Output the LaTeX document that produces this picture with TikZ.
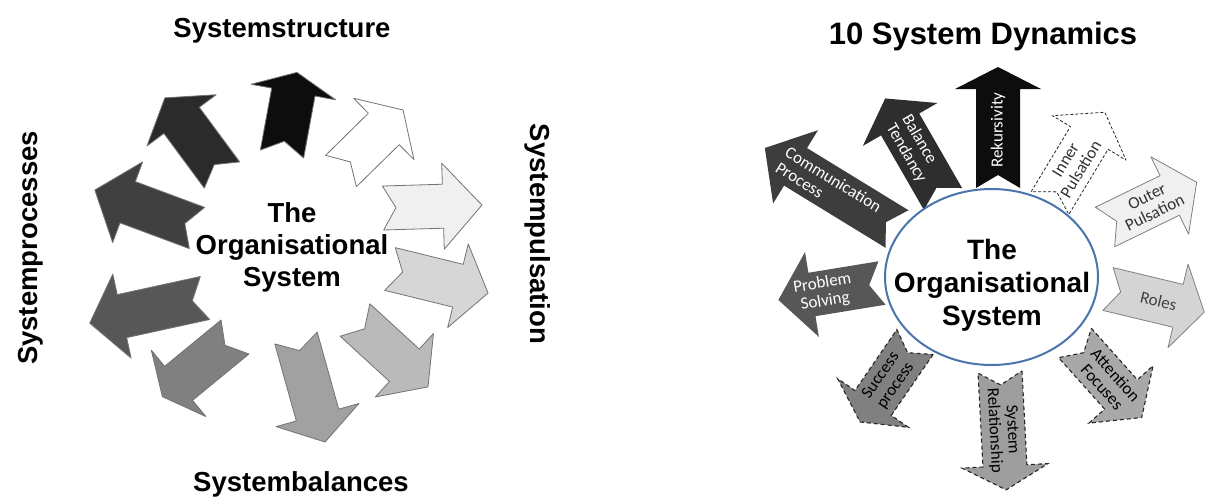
\documentclass[tikz,border=0pt]{standalone}
\usepackage{fontspec}
\setmainfont{Liberation Sans}
\newfontfamily\calfont{Carlito}
\usetikzlibrary{calc,shapes.geometric}
\definecolor{ellblue}{HTML}{4A74AC}
\def\arW{22}\def\arH{43}\def\arN{13}
% #1 tail (x,y), #2 angle, #3 length, #4 head length, #5 path style
\newcommand\chev[5]{%
  \begin{scope}[shift={#1},rotate=#2]
    \path[#5] (0,\arW) -- ({#3-#4},\arW) -- ({#3-#4},\arH) -- (#3,0)
      -- ({#3-#4},-\arH) -- ({#3-#4},-\arW) -- (0,-\arW) -- (\arN,0) -- cycle;
  \end{scope}}
% #1 name, #2 tail, #3 angle, #4 distance, #5 text angle, #6 options, #7 text
\newcommand\chevtext[7]{%
  \node[lbl,rotate=#5,#6] (#1) at ($#2+(#3:#4)$) {#7};}
\begin{document}
\begin{tikzpicture}[x=1pt,y=1pt,
  ttl/.style={font=\bfseries\fontsize{27.5}{32}\selectfont, inner sep=0},
  lbl/.style={font=\calfont\fontsize{17}{18}\selectfont, align=center, inner sep=0},
  larr/.style={draw=black!55, line width=0.8, line join=round},
  rarr/.style={line width=0.8, line join=round},
  dsh/.style={draw=black!85, line width=1.1, dash pattern=on 4pt off 3pt},
]
\useasboundingbox (0,0) rectangle (1209,-496);
\fill[white] (0,0) rectangle (1209,-496);

% ---------------- left diagram ----------------
\chev{(282,-154)}{79.6}{83}{20}{larr,fill=black!95}
\chev{(341,-171)}{44.5}{87}{27}{larr,fill=white}
\chev{(383,-208)}{1.7}{99}{39}{larr,fill=black!6}
\chev{(390,-269)}{-13.8}{101}{31}{larr,fill=black!16}
\chev{(355,-320)}{-42.5}{99}{32}{larr,fill=black!27}
\chev{(296,-338)}{-74.4}{108}{28}{larr,fill=black!37}
\chev{(235,-337)}{219.4}{94}{21}{larr,fill=black!50}
\chev{(205,-298)}{192.3}{118}{33}{larr,fill=black!66}
\chev{(197,-228)}{159.6}{109}{35}{larr,fill=black!75}
\chev{(222,-175)}{126.5}{96}{28}{larr,fill=black!83}

\node[ttl, align=center, font=\bfseries\fontsize{27.5}{32}\selectfont] (lsys) at (292,-247) {The\\Organisational\\System};
\node[ttl, anchor=base] (lstruct) at (282,-37) {Systemstructure};
\node[ttl, anchor=base] (lbal) at (301,-491) {Systembalances};
\node[ttl, anchor=base, rotate=-90] (lpuls) at (530,-234) {Systempulsation};
\node[ttl, anchor=base, rotate=90] (lproc) at (37,-248) {Systemprocesses};

% ---------------- right diagram ----------------
\node[ttl, anchor=base, font=\bfseries\fontsize{31}{36}\selectfont] (rtitle) at (983,-44) {10 System Dynamics};

\chev{(998,-188)}{90}{121}{22}{rarr,fill=black!95}
\chevtext{t1}{(998,-188)}{90}{58}{90}{text=white}{Rekursivity}
\chev{(943,-199)}{119.9}{116}{30}{rarr,fill=black!82}
\chevtext{t2}{(943,-199)}{119.9}{58}{-60.1}{text=white,align=left}{Balance\\Tendancy}
\chev{(897,-229)}{148.5}{155}{36}{rarr,fill=black!76}
\chevtext{t3}{(897,-229)}{148.5}{80}{-31.5}{text=white,align=left}{Communication\\Process}
\chev{(882,-283)}{189.3}{105}{34}{rarr,fill=black!66}
\chevtext{t4}{(882,-283)}{189.3}{59}{9.3}{text=white}{Problem\\Solving}
\chev{(915,-342)}{235.5}{97}{23}{dsh,fill=black!50}
\chevtext{t5}{(915,-342)}{235.5}{47}{55.5}{text=black}{Success\\process}
\chev{(1000,-372)}{-87}{118}{24}{dsh,fill=black!38}
\chevtext{t6}{(1000,-372)}{-87}{58}{-87}{text=black}{System\\Relationship}
\chev{(1075,-343)}{-48.2}{100}{31}{dsh,fill=black!34}
\chevtext{t7}{(1075,-343)}{-48.2}{51}{-48.2}{text=black}{Attention\\Focuses}
\chev{(1108,-289)}{-13.5}{99}{27}{rarr,draw=black!50,fill=black!17}
\chevtext{t8}{(1108,-289)}{-13.5}{52}{-13.5}{text=black!75}{Roles}
\chev{(1105,-227)}{26}{102}{30}{rarr,draw=black!50,fill=black!6}
\chevtext{t9}{(1105,-227)}{26}{51}{26}{text=black!80}{Outer\\Pulsation}
\chev{(1050,-203)}{58.9}{106}{30}{rarr,draw=black!85,dash pattern=on 3pt off 2pt,fill=white}
\chevtext{t10}{(1050,-203)}{58.9}{45}{58.9}{text=black!80}{Inner\\Pulsation}

\node[draw=ellblue, line width=2, ellipse, minimum width=213, minimum height=176, inner sep=0] (sysell) at (991.5,-277) {};
\node[ttl, align=center, font=\bfseries\fontsize{28}{33}\selectfont] (rsys) at (992,-285) {The\\Organisational\\System};
\end{tikzpicture}
\end{document}
